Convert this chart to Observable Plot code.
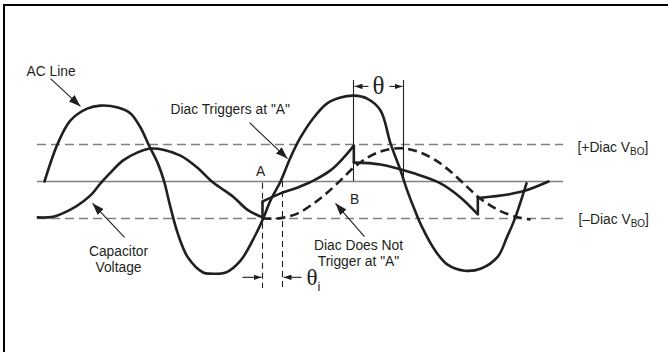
<!DOCTYPE html>
<html>
<head>
<meta charset="utf-8">
<script src="https://cdn.jsdelivr.net/npm/d3@7"></script>
<script src="https://cdn.jsdelivr.net/npm/@observablehq/plot@0.6"></script>
<style>
html, body { margin: 0; padding: 0; background: #fff; }
#wrap { position: relative; width: 668px; height: 352px; overflow: hidden; background: #fff; }
#wrap svg { position: absolute; left: 0; top: 0; }
.frame { position: absolute; left: 3px; top: 4px; right: -10px; bottom: -10px; border-top: 2px solid #000; border-left: 2px solid #000; pointer-events: none; }
</style>
</head>
<body>
<div id="wrap"></div>
<script>
// ---- AC line (phase in degrees, voltage in units of the diac break-over voltage VBO)
const acPhase = [0, 20, 39, 64, 84, 110, 129, 144, 156, 170, 179, 189, 200, 215, 238, 249, 272, 294, 316, 328,
                 339, 354, 369, 384, 404, 424, 444, 464, 484, 504, 519, 534, 544, 556, 566, 585, 604, 630, 655, 680,
                 694, 705, 723];
const acVolts = [0, 1.03, 1.65, 1.97, 2.05, 2.0, 1.84, 1.46, 1.0, 0.49, 0.03, -0.70, -1.41, -2.05, -2.46, -2.49, -2.46, -2.14, -1.46, -1.0,
                 -0.51, 0, 0.65, 1.19, 1.73, 2.11, 2.27, 2.32, 2.24, 1.92, 1.03, 0.30, -0.24, -0.80, -1.22, -1.84, -2.24, -2.41, -2.35, -2.03,
                 -1.49, -1.03, -0.05];

// ---- Capacitor voltage, diac triggers at "A" (segments separated by the trigger jumps)
const capPhase = [-10, 13, 39, 58, 72, 84, 99, 118, 139, 159, 178, 204, 229, 253, 283, 304, 327,
                  327, 354, 380, 404, 429, 449, 464,
                  464, 504, 554, 594, 624, 650,
                  650, 695, 719, 756];
const capVolts = [-0.97, -0.95, -0.76, -0.54, -0.32, -0.05, 0.24, 0.57, 0.78, 0.89, 0.86, 0.70, 0.38, -0.03, -0.41, -0.76, -0.97,
                  -0.54, -0.32, -0.16, 0.03, 0.30, 0.65, 0.97,
                  0.51, 0.46, 0.22, -0.05, -0.43, -0.89,
                  -0.45, -0.35, -0.26, 0];
const capSegment = [0, 0, 0, 0, 0, 0, 0, 0, 0, 0, 0, 0, 0, 0, 0, 0, 0,
                    1, 1, 1, 1, 1, 1, 1,
                    2, 2, 2, 2, 2, 2,
                    3, 3, 3, 3];

// ---- Capacitor voltage, diac does not trigger at "A" (dashed)
const openPhase = [327, 354, 380, 404, 423, 444, 464, 485, 504, 524, 542, 564, 587, 609, 632, 650, 669, 689, 711, 729];
const openVolts = [-1.0, -0.99, -0.86, -0.59, -0.32, 0.03, 0.38, 0.65, 0.81, 0.89, 0.89, 0.78, 0.57, 0.27, -0.11, -0.41, -0.65, -0.84, -0.97, -1.03];

// ---- reference levels: zero line and ±VBO
const zeroLevel = [0];
const vboLevels = [1, -1];
const levelSpan = [-10.5, 778.5];

// ---- annotations (data coordinates)
const labelText   = ["AC Line", "Diac Triggers at \"A\"", "A", "B", "Capacitor\nVoltage", "Diac Does Not\nTrigger at \"A\"", "[+Diac VBO]", "[–Diac VBO]"];
const labelPhase  = [-27, 189, 324, 465, 111, 471, 799.5, 801];
const labelVolts  = [3.0, 1.97, 0.30, -0.46, -2.08, -1.93, 0.95, -1.0];
const labelAnchor = ["start", "start", "middle", "middle", "middle", "middle", "start", "start"];

const arrowFromPhase = [9, 307.5, 120, 480];
const arrowFromVolts = [2.78, 1.59, -1.51, -1.49];
const arrowToPhase   = [54, 364.5, 72, 436.5];
const arrowToVolts   = [2.03, 0.62, -0.59, -0.59];

// firing-angle markers
const thetaPhase = [463.5, 538.5];      // θ between trigger B and AC zero crossing
const thetaTop = 2.73;
const thetaLabel = {text: "θ", phase: 501, volts: 2.57, arrowOuter: [465, 537], arrowInner: [486, 517.5]};
const thetaIPhase = [327, 357];         // θi around trigger A
const thetaIStart = [-0.05, 0];
const thetaIBottom = -2.89;
const thetaILabel = {text: "θi", phase: 393, volts: -2.59, arrowOuter: [297, 385.5], arrowInner: [325.5, 358.5]};

// ---------------------------------------------------------------
const ink = "#231f20";
const gray = "#808080";
const sans = "'Liberation Sans', Arial, Helvetica, sans-serif";
const serif = "'Liberation Serif', 'Times New Roman', serif";

const ac = acPhase.map((t, i) => ({t, v: acVolts[i]}));
const cap = capPhase.map((t, i) => ({t, v: capVolts[i], s: capSegment[i]}));
const jumps = [];
for (let i = 1; i < cap.length; i++) {
  if (cap[i].s !== cap[i - 1].s) jumps.push({t1: cap[i - 1].t, v1: cap[i - 1].v, t2: cap[i].t, v2: cap[i].v});
}
const open = openPhase.map((t, i) => ({t, v: openVolts[i]}));
const labels = labelText.map((text, i) => ({text, t: labelPhase[i], v: labelVolts[i], anchor: labelAnchor[i]}));
const arrows = arrowFromPhase.map((t1, i) => ({t1, v1: arrowFromVolts[i], t2: arrowToPhase[i], v2: arrowToVolts[i]}));
const smallArrows = [
  {t1: thetaLabel.arrowInner[0], t2: thetaLabel.arrowOuter[0], v: thetaLabel.volts},
  {t1: thetaLabel.arrowInner[1], t2: thetaLabel.arrowOuter[1], v: thetaLabel.volts},
  {t1: thetaILabel.arrowOuter[0], t2: thetaILabel.arrowInner[0], v: thetaILabel.volts},
  {t1: thetaILabel.arrowOuter[1], t2: thetaILabel.arrowInner[1], v: thetaILabel.volts}
];
const thetaI = thetaIPhase.map((t, i) => ({t, v1: thetaIStart[i]}));

const chart = Plot.plot({
  width: 668,
  height: 352,
  margin: 0,
  x: {domain: [0, 720], range: [44, 524], axis: null},
  y: {domain: [-1, 1], range: [218, 144], axis: null},
  style: {background: "transparent", overflow: "visible"},
  marks: [
    Plot.ruleY(zeroLevel, {x1: levelSpan[0], x2: levelSpan[1], stroke: gray, strokeWidth: 1.3}),
    Plot.ruleY(vboLevels, {x1: levelSpan[0], x2: levelSpan[1], stroke: gray, strokeWidth: 1.5, strokeDasharray: "9,5"}),
    Plot.ruleX(thetaPhase, {y1: 0, y2: thetaTop, stroke: ink, strokeWidth: 1.1}),
    Plot.ruleX(thetaI, {x: "t", y1: "v1", y2: thetaIBottom, stroke: ink, strokeWidth: 1.1, strokeDasharray: "6,4"}),
    Plot.line(ac, {x: "t", y: "v", curve: "catmull-rom", stroke: ink, strokeWidth: 2.6}),
    Plot.line(cap, {x: "t", y: "v", z: "s", curve: "catmull-rom", stroke: ink, strokeWidth: 2.6}),
    Plot.link(jumps, {x1: "t1", y1: "v1", x2: "t2", y2: "v2", stroke: ink, strokeWidth: 2.6}),
    Plot.line(open, {x: "t", y: "v", curve: "catmull-rom", stroke: ink, strokeWidth: 2.6, strokeDasharray: "9,5", strokeLinecap: "butt"}),
    Plot.link(arrows, {x1: "t1", y1: "v1", x2: "t2", y2: "v2", stroke: ink, strokeWidth: 1.1, className: "arrow-big"}),
    Plot.link(smallArrows, {x1: "t1", y1: "v", x2: "t2", y2: "v", stroke: ink, strokeWidth: 1.1, className: "arrow-small"}),
    Plot.text(labels, {filter: d => d.anchor === "start", x: "t", y: "v", text: "text", textAnchor: "start", fill: ink, fontSize: 13.8, fontFamily: sans, lineHeight: 1.19, className: "lbl"}),
    Plot.text(labels, {filter: d => d.anchor === "middle", x: "t", y: "v", text: "text", textAnchor: "middle", fill: ink, fontSize: 13.8, fontFamily: sans, lineHeight: 1.19}),
    Plot.text([thetaLabel], {x: "phase", y: "volts", text: "text", textAnchor: "middle", fill: ink, fontSize: 25, fontFamily: serif}),
    Plot.text([thetaILabel], {x: "phase", y: "volts", text: "text", textAnchor: "start", fill: ink, fontSize: 23, fontFamily: serif, className: "theta-i"})
  ]
});

// arrowheads (filled triangles) and subscripts
const svg = d3.select(chart);
const defs = svg.insert("defs", ":first-child");
function head(id, len, wid) {
  defs.append("marker").attr("id", id)
    .attr("markerUnits", "userSpaceOnUse")
    .attr("viewBox", `${-len} ${-wid / 2} ${len} ${wid}`)
    .attr("markerWidth", len).attr("markerHeight", wid)
    .attr("refX", 0).attr("refY", 0).attr("orient", "auto")
    .append("path").attr("d", `M${-len},${-wid / 2}L0,0L${-len},${wid / 2}Z`).attr("fill", ink);
}
head("head-big", 12, 8.5);
head("head-small", 8, 5.5);
svg.selectAll(".arrow-big path").attr("marker-end", "url(#head-big)");
svg.selectAll(".arrow-small path").attr("marker-end", "url(#head-small)");

svg.selectAll(".lbl text").each(function () {
  const s = this.textContent;
  const k = s.indexOf("VBO");
  if (k < 0) return;
  const t = d3.select(this);
  t.text(null);
  t.append("tspan").attr("fill", ink).text(s.slice(0, k + 1));
  t.append("tspan").attr("fill", ink).attr("font-size", 10).attr("dy", 3).text("BO");
  t.append("tspan").attr("fill", ink).attr("dy", -3).text(s.slice(k + 3));
});
svg.selectAll(".theta-i text").each(function () {
  const s = this.textContent;
  const t = d3.select(this);
  t.text(null);
  t.append("tspan").attr("fill", ink).text(s.slice(0, 1));
  t.append("tspan").attr("fill", ink).attr("font-size", 13).attr("font-family", sans).attr("dy", 6).text(s.slice(1));
});

const wrap = document.getElementById("wrap");
wrap.appendChild(chart);
const frame = document.createElement("div");
frame.className = "frame";
wrap.appendChild(frame);
</script>
</body>
</html>
